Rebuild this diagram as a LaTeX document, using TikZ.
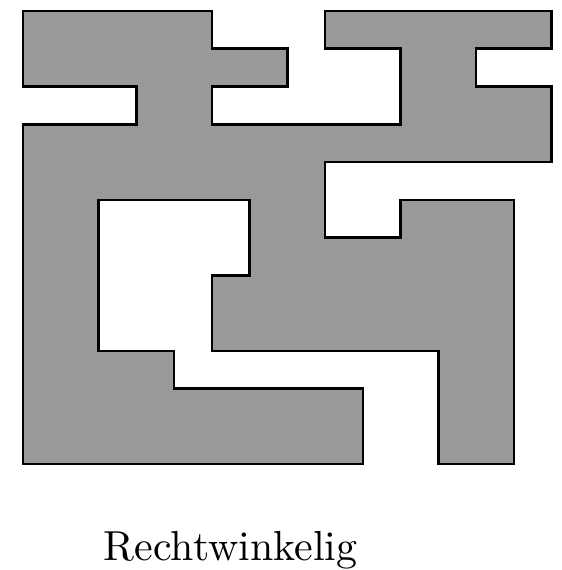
\documentclass[tikz,border=0pt]{standalone}
\usepackage{fontspec}
\newfontfamily\capfont{lmroman10-regular.otf}
\definecolor{ShapeFill}{RGB}{153,153,153}
\tikzset{
  outline/.style={draw=black, fill=ShapeFill, line width=1.9pt, line join=miter},
  caption/.style={font=\capfont\fontsize{31.6}{38}\selectfont, anchor=base}
}

\begin{document}
\begin{tikzpicture}

% Page frame
\useasboundingbox (-0.608,-2.804) rectangle (14.265,12.291);

% Rectilinear polygon
\draw[outline]
  (0,12) -- (5,12) -- (5,11) -- (7,11) -- (7,10) -- (5,10) -- (5,9)
  -- (10,9) -- (10,11) -- (8,11) -- (8,12) -- (14,12) -- (14,11)
  -- (12,11) -- (12,10) -- (14,10) -- (14,8) -- (8,8) -- (8,6)
  -- (10,6) -- (10,7) -- (13,7) -- (13,0) -- (11,0) -- (11,3)
  -- (5,3) -- (5,5) -- (6,5) -- (6,7) -- (2,7) -- (2,3) -- (4,3)
  -- (4,2) -- (9,2) -- (9,0) -- (0,0) -- (0,9) -- (3,9) -- (3,10)
  -- (0,10) -- cycle;

% Caption
\node[caption] (title) at (5.5,-2.54) {Rechtwinkelig};

\end{tikzpicture}
\end{document}
